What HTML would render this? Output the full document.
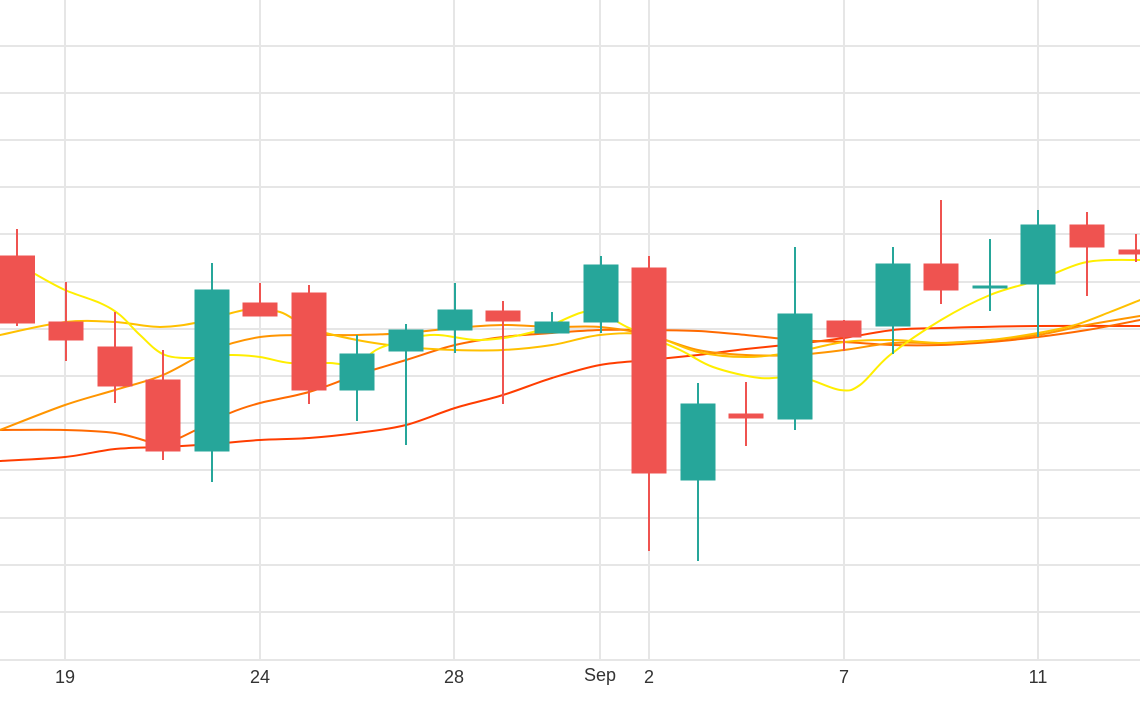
<!DOCTYPE html>
<html><head><meta charset="utf-8"><style>html,body{margin:0;padding:0;background:#fff;}svg{display:block}</style></head>
<body>
<svg id="c" width="1140" height="710" viewBox="0 0 1140 710" xmlns="http://www.w3.org/2000/svg" font-family="Liberation Sans, sans-serif">
<g stroke="#e6e6e6" stroke-width="2">
<line x1="0" y1="46" x2="1140" y2="46"/><line x1="0" y1="93" x2="1140" y2="93"/><line x1="0" y1="140" x2="1140" y2="140"/><line x1="0" y1="187" x2="1140" y2="187"/><line x1="0" y1="234" x2="1140" y2="234"/><line x1="0" y1="282" x2="1140" y2="282"/><line x1="0" y1="329" x2="1140" y2="329"/><line x1="0" y1="376" x2="1140" y2="376"/><line x1="0" y1="423" x2="1140" y2="423"/><line x1="0" y1="470" x2="1140" y2="470"/><line x1="0" y1="518" x2="1140" y2="518"/><line x1="0" y1="565" x2="1140" y2="565"/><line x1="0" y1="612" x2="1140" y2="612"/><line x1="0" y1="660" x2="1140" y2="660"/>
<line x1="65" y1="0" x2="65" y2="660"/><line x1="260" y1="0" x2="260" y2="660"/><line x1="454" y1="0" x2="454" y2="660"/><line x1="600" y1="0" x2="600" y2="660"/><line x1="649" y1="0" x2="649" y2="660"/><line x1="844" y1="0" x2="844" y2="660"/><line x1="1038" y1="0" x2="1038" y2="660"/>
</g>
<g id="lines" fill="none" stroke-width="2" stroke-linejoin="round" stroke-linecap="round">
<polyline stroke="#ff3d00" points="0,461 65,457 115,449 163,447 212,444 260,440 309,438 357,433 406,425 455,408 503,395 552,378 600,365 649,360 698,355 746,349 795,344 844,338 893,330 941,328 1038,326 1140,326"/>
<polyline stroke="#ff6a00" points="0,430 65,430 115,433 150,442 163,445 200,428 230,413 260,403 309,392 357,375 406,360 455,345 503,337 552,333 600,330 649,330 698,331 746,335 795,340 844,342 893,345 941,345 990,342 1038,337 1087,330 1140,320"/>
<polyline stroke="#ff9500" points="0,430 65,405 115,390 163,375 212,350 260,337 309,335 357,335 406,333 455,328 503,325 552,327 600,327 649,335 698,350 746,355 795,355 844,350 893,343 941,343 990,340 1038,335 1087,325 1140,316"/>
<polyline stroke="#ffc000" points="0,335 65,322 115,322 160,327 200,322 245,310 280,312 309,328 357,340 406,347 455,350 503,350 552,345 600,335 649,335 698,352 746,357 795,352 844,342 893,340 941,343 990,340 1038,333 1075,325 1110,312 1140,300"/>
<polyline stroke="#ffee00" points="35,274 65,290 100,303 120,315 140,335 165,355 200,358 230,355 260,357 290,363 330,363 357,365 380,348 430,335 480,340 533,332 580,313 600,312 627,327 680,350 713,367 760,378 800,377 840,390 860,385 890,355 941,320 990,295 1038,280 1087,262 1140,260"/>
</g>
<g stroke-width="1">
<g fill="#ef5350" stroke="#ef5350">
<line x1="17" y1="229" x2="17" y2="326" stroke-width="2"/><rect x="0.5" y="256" width="34" height="67"/>
<line x1="66" y1="282" x2="66" y2="361" stroke-width="2"/><rect x="49" y="322" width="34" height="18"/>
<line x1="115" y1="312" x2="115" y2="403" stroke-width="2"/><rect x="98" y="347" width="34" height="39"/>
<line x1="163" y1="350" x2="163" y2="460" stroke-width="2"/><rect x="146" y="380" width="34" height="71"/>
<line x1="260" y1="283" x2="260" y2="316" stroke-width="2"/><rect x="243" y="303" width="34" height="13"/>
<line x1="309" y1="285" x2="309" y2="404" stroke-width="2"/><rect x="292" y="293" width="34" height="97"/>
<line x1="503" y1="301" x2="503" y2="404" stroke-width="2"/><rect x="486" y="311" width="34" height="10"/>
<line x1="649" y1="256" x2="649" y2="551" stroke-width="2"/><rect x="632" y="268" width="34" height="205"/>
<line x1="746" y1="382" x2="746" y2="446" stroke-width="2"/><rect x="729" y="414" width="34" height="4"/>
<line x1="844" y1="320" x2="844" y2="351" stroke-width="2"/><rect x="827" y="321" width="34" height="16"/>
<line x1="941" y1="200" x2="941" y2="304" stroke-width="2"/><rect x="924" y="264" width="34" height="26"/>
<line x1="1087" y1="212" x2="1087" y2="296" stroke-width="2"/><rect x="1070" y="225" width="34" height="22"/>
<line x1="1136" y1="234" x2="1136" y2="262" stroke-width="2"/><rect x="1119" y="250" width="34" height="4"/>
</g>
<g fill="#26a69a" stroke="#26a69a">
<line x1="212" y1="263" x2="212" y2="482" stroke-width="2"/><rect x="195" y="290" width="34" height="161"/>
<line x1="357" y1="335" x2="357" y2="421" stroke-width="2"/><rect x="340" y="354" width="34" height="36"/>
<line x1="406" y1="324" x2="406" y2="445" stroke-width="2"/><rect x="389" y="330" width="34" height="21"/>
<line x1="455" y1="283" x2="455" y2="353" stroke-width="2"/><rect x="438" y="310" width="34" height="20"/>
<line x1="552" y1="312" x2="552" y2="333" stroke-width="2"/><rect x="535" y="322" width="34" height="11"/>
<line x1="601" y1="256" x2="601" y2="333" stroke-width="2"/><rect x="584" y="265" width="34" height="57"/>
<line x1="698" y1="383" x2="698" y2="561" stroke-width="2"/><rect x="681" y="404" width="34" height="76"/>
<line x1="795" y1="247" x2="795" y2="430" stroke-width="2"/><rect x="778" y="314" width="34" height="105"/>
<line x1="893" y1="247" x2="893" y2="354" stroke-width="2"/><rect x="876" y="264" width="34" height="62"/>
<line x1="990" y1="239" x2="990" y2="311" stroke-width="2"/><rect x="973" y="286" width="34" height="2"/>
<line x1="1038" y1="210" x2="1038" y2="337" stroke-width="2"/><rect x="1021" y="225" width="34" height="59"/>
</g>
</g>
<g fill="#333" font-size="18" text-anchor="middle">
<text x="65" y="683">19</text><text x="260" y="683">24</text><text x="454" y="683">28</text><text x="600" y="681">Sep</text><text x="649" y="683">2</text><text x="844" y="683">7</text><text x="1038" y="683">11</text>
</g>
</svg>
<script>
(function(){
var NS="http://www.w3.org/2000/svg";
var pls=document.querySelectorAll('#lines polyline');
for(var k=0;k<pls.length;k++){
 var pl=pls[k];
 var p=pl.getAttribute('points').trim().split(/\s+/).map(function(s){var a=s.split(',');return [+a[0],+a[1]];});
 var d="M"+p[0][0]+","+p[0][1];
 for(var i=0;i<p.length-1;i++){
  var p0=p[i-1]||p[i],p1=p[i],p2=p[i+1],p3=p[i+2]||p2;
  var c1x=p1[0]+(p2[0]-p0[0])/6,c1y=p1[1]+(p2[1]-p0[1])/6;
  var c2x=p2[0]-(p3[0]-p1[0])/6,c2y=p2[1]-(p3[1]-p1[1])/6;
  d+=" C"+c1x.toFixed(1)+","+c1y.toFixed(1)+" "+c2x.toFixed(1)+","+c2y.toFixed(1)+" "+p2[0]+","+p2[1];
 }
 var path=document.createElementNS(NS,'path');
 path.setAttribute('d',d);
 path.setAttribute('stroke',pl.getAttribute('stroke'));
 pl.parentNode.replaceChild(path,pl);
}
})();
</script>
</body></html>
